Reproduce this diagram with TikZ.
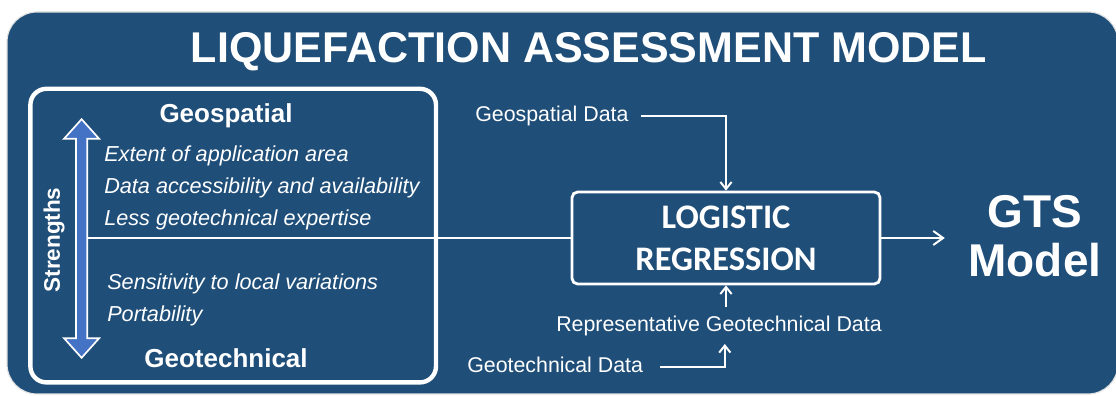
\documentclass[tikz,border=0pt]{standalone}
\usepackage{fontspec}
\setmainfont{Liberation Sans}
\newfontfamily\lrfont{Carlito}
\usetikzlibrary{positioning, arrows.meta}

\definecolor{panelblue}{RGB}{31,78,121}
\definecolor{arrowblue}{RGB}{68,114,196}

\begin{document}
\begin{tikzpicture}[
      lbl/.style={text=white, inner sep=0pt, anchor=base west,
      font=\fontsize{15.2}{18}\selectfont},
      item/.style={lbl, font=\fontsize{15.4}{18}\selectfont\itshape},
      side/.style={text=white, inner sep=0pt, anchor=base,
      font=\fontsize{18.5}{22}\selectfont\bfseries},
      lrbox/.style={rectangle, draw=white, line width=2pt, rounded corners=4pt,
      minimum width=7.7cm, minimum height=2.3cm, text=white, align=center,
      font=\lrfont\bfseries\fontsize{24.5}{30}\selectfont},
      conn/.style={draw=white, line width=1.4pt,
      -{Straight Barb[length=5pt, width=8pt, line width=1.4pt]}}
    ]
    \useasboundingbox (0,0) rectangle (27.9,9.9);

    % Panel
    \path[fill=panelblue, draw=black!12, line width=0.8pt, rounded corners=0.75cm]
    (0.175,9.6) rectangle (27.95,0.05);
    \node[text=white, inner sep=0pt, anchor=base,
    font=\fontsize{30.6}{36}\selectfont\bfseries] (title) at (14.72, 8.325)
    {LIQUEFACTION ASSESSMENT MODEL};

    % Strengths box
    \draw[white, line width=0.11cm, rounded corners=0.4cm]
    (0.76,7.68) rectangle (10.9,0.34);
    \path[fill=arrowblue, draw=white, line width=1.2pt, line join=miter]
    (2.04,6.92) -- (2.48,6.43) -- (2.18,6.43) -- (2.18,1.445) -- (2.48,1.445)
    -- (2.04,0.955) -- (1.60,1.445) -- (1.90,1.445) -- (1.90,6.43)
    -- (1.60,6.43) -- cycle;
    \coordinate (split) at (2.2, 3.95);
    \node[text=white, inner sep=0pt, rotate=90,
    font=\fontsize{16}{18}\selectfont\bfseries] (strengths) at (1.35, 3.9)
    {Strengths};

    \node[side] (geospatial) at (5.65, 6.825) {Geospatial};
    \node[item] (extent) at (2.6, 5.85) {Extent of application area};
    \node[item] (access) at (2.6, 5.05) {Data accessibility and availability};
    \node[item] (expertise) at (2.6, 4.25) {Less geotechnical expertise};
    \node[item] (sensitivity) at (2.675, 2.65) {Sensitivity to local variations};
    \node[item] (portability) at (2.675, 1.85) {Portability};
    \node[side] (geotechnical) at (5.65, 0.7) {Geotechnical};

    % Regression
    \node[lrbox] (logit) at (18.15, 3.95) {LOGISTIC\\REGRESSION};
    \draw[white, line width=1.4pt] (split) -- (logit.west);

    % Inputs
    \node[lbl] (gsdata) at (11.875, 6.85) {Geospatial Data};
    \draw[conn] ([xshift=0.3cm]gsdata.east) -| (logit.north);

    \node[lbl, anchor=base] (repdata) at (17.975, 1.6)
    {Representative Geotechnical Data};
    \draw[conn] ([yshift=0.22cm]repdata.north -| logit.south) -- (logit.south);

    \node[lbl] (gtdata) at (11.675, 0.575) {Geotechnical Data};
    \coordinate (repin) at (18.12, 1.3);
    \draw[conn] ([xshift=0.42cm, yshift=-0.04cm]gtdata.east) -| (repin);

    % Output
    \node[text=white, inner sep=0pt, align=center,
    font=\fontsize{32.7}{35}\selectfont\bfseries] (gts) at (25.875, 4.0)
    {GTS\\Model};
    \coordinate (gtsin) at (23.62, 3.95);
    \draw[conn, -{Straight Barb[length=7pt, width=10pt, line width=1.4pt]}]
    (logit.east) -- (gtsin);

  \end{tikzpicture}
\end{document}
